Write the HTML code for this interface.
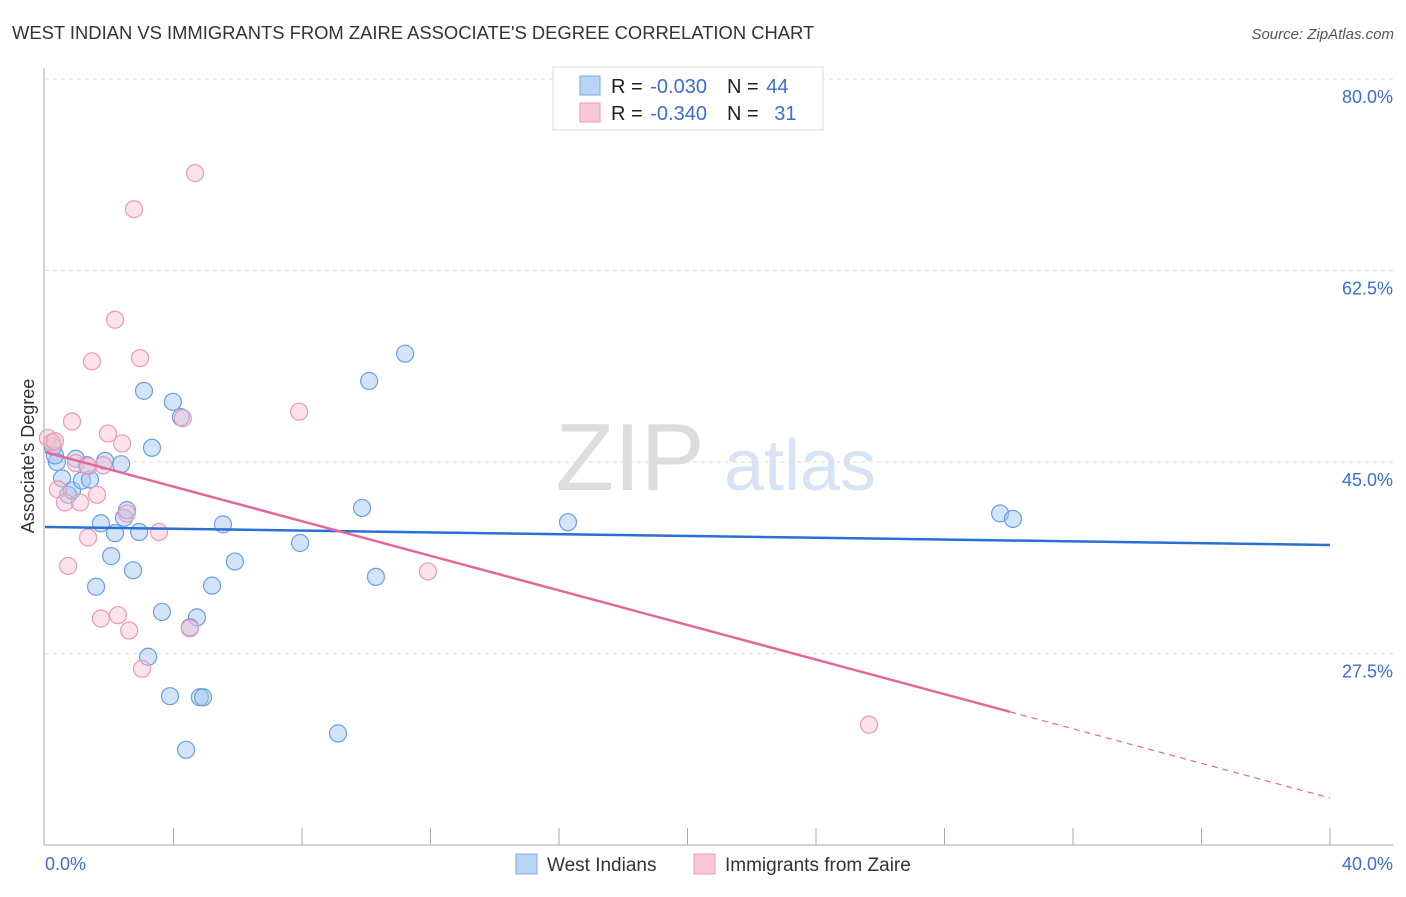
<!DOCTYPE html>
<html><head><meta charset="utf-8"><style>
body{margin:0;background:#fff;font-family:"Liberation Sans",sans-serif}
svg text{font-family:"Liberation Sans",sans-serif}
</style></head><body>
<svg id="c" width="1406" height="892">
<text x="12" y="39" font-size="18.4" fill="#333">WEST INDIAN VS IMMIGRANTS FROM ZAIRE ASSOCIATE'S DEGREE CORRELATION CHART</text>
<text x="1394" y="39" font-size="15" fill="#555" font-style="italic" text-anchor="end">Source: ZipAtlas.com</text>
<text x="630" y="490" font-size="96" fill="#ddd" font-family="Liberation Serif" text-anchor="middle">ZIP</text>
<text x="800" y="490" font-size="72" fill="#d6e4f5" text-anchor="middle">atlas</text>
<text x="34" y="456" font-size="18" fill="#333" text-anchor="middle" transform="rotate(-90 34 456)">Associate's Degree</text>
<g id="grid"></g><g id="axes"></g><g id="pts"></g><g id="lines"></g>
<g>
<rect x="553" y="67" width="270" height="63" fill="#fff" stroke="#ddd"/>
<rect x="580" y="76" width="20" height="19" fill="#b9d4f5" stroke="#7aaae6"/>
<rect x="580" y="103" width="20" height="19" fill="#f9c9d7" stroke="#eb9ab2"/>
<text x="611" y="93" font-size="20" fill="#222">R = <tspan fill="#3a6fd0" dx="2">-0.030</tspan><tspan dx="20">N = </tspan><tspan fill="#3a6fd0" dx="2">44</tspan></text>
<text x="611" y="120" font-size="20" fill="#222">R = <tspan fill="#3a6fd0" dx="2">-0.340</tspan><tspan dx="20">N = </tspan><tspan fill="#3a6fd0" dx="10">31</tspan></text>
</g>
<g>
<rect x="516" y="854" width="21" height="20" fill="#b9d4f5" stroke="#7aaae6"/>
<text x="547" y="871" font-size="19" fill="#333">West Indians</text>
<rect x="694" y="854" width="21" height="20" fill="#f9c9d7" stroke="#eb9ab2"/>
<text x="725" y="871" font-size="19" fill="#333">Immigrants from Zaire</text>
</g>
</svg>
<script>
const yTicks=[80,62.5,45,27.5];
const yTickLabels=["80.0%","62.5%","45.0%","27.5%"];
const blueX=[0.25,0.37,0.31,0.53,0.72,0.84,1.15,1.40,0.96,1.31,1.87,2.37,1.74,2.18,2.46,2.55,2.93,2.06,1.59,2.74,3.08,3.33,3.98,4.23,5.54,5.91,5.20,3.64,4.73,4.51,3.21,3.89,4.82,4.92,4.39,7.94,9.12,9.87,10.09,10.30,11.21,16.28,29.73,30.13];
const blueY=[46.4,45.0,45.6,43.5,42.0,42.4,43.3,43.4,45.3,44.7,45.1,44.8,39.4,38.5,39.9,40.6,38.6,36.4,33.6,35.1,51.5,46.3,50.5,49.1,39.3,35.9,33.7,31.3,30.8,29.9,27.2,23.6,23.5,23.5,18.7,37.6,20.2,40.8,52.4,34.5,54.9,39.5,40.3,39.8];
const pinkX=[0.09,0.22,0.31,0.84,0.40,0.62,1.09,1.62,0.96,1.34,1.81,1.96,2.40,2.55,4.67,2.77,2.18,2.96,1.46,4.29,7.91,1.34,0.72,3.55,2.27,1.74,2.62,4.51,3.02,11.92,25.65];
const pinkY=[47.2,46.8,46.9,48.7,42.5,41.3,41.3,42.0,44.9,44.6,44.7,47.6,46.7,40.3,71.4,68.1,58.0,54.5,54.2,49.0,49.6,38.1,35.5,38.6,31.0,30.7,29.6,29.8,26.1,35.0,21.0];
const blueTrend=[39.06,37.42];
const pinkTrend=[45.91,14.30];
const pinkSolidEnd=30.04;
const X=v=>45+v/40*1285, Y=v=>79+(80-v)/17.5*191.5;
const ns="http://www.w3.org/2000/svg";
function mk(t,a,p){const e=document.createElementNS(ns,t);for(const k in a)e.setAttribute(k,a[k]);document.getElementById(p).appendChild(e);return e;}
yTicks.forEach((t,i)=>{
 const g=mk('line',{x1:45,x2:1393,y1:Y(t),y2:Y(t),stroke:'#ddd','stroke-dasharray':'4,4'},'grid');
 
 
 const l=mk('text',{x:1393,y:Y(t)+24,'font-size':18,fill:'#3a6fd0','text-anchor':'end'},'axes');
 l.textContent=yTickLabels[i];
 
 
});
const ya=mk('line',{x1:44,x2:44,y1:68,y2:845,stroke:'#aaa'},'axes');


const xa=mk('line',{x1:44,x2:1393,y1:845,y2:845,stroke:'#aaa'},'axes');


for(let v=4;v<=40;v+=4){const t=mk('line',{x1:X(v),x2:X(v),y1:828,y2:845,stroke:'#aaa'},'axes');
 
 }
[["0.0%",45,"start"],["40.0%",1393,"end"]].forEach(a=>{const t=mk('text',{x:a[1],y:870,'font-size':18,fill:'#3a6fd0','text-anchor':a[2]},'axes');t.textContent=a[0];
 
 });
blueX.forEach((x,i)=>{const c=mk('circle',{cx:X(x),cy:Y(blueY[i]),r:8.5,fill:'rgba(160,196,240,0.45)',stroke:'#6a9fe0','stroke-width':1.2},'pts');
 
 });
pinkX.forEach((x,i)=>{const c=mk('circle',{cx:X(x),cy:Y(pinkY[i]),r:8.5,fill:'rgba(248,190,208,0.45)',stroke:'#ea9ab4','stroke-width':1.2},'pts');
 
 });
const bl=mk('line',{x1:X(0),y1:Y(blueTrend[0]),x2:X(40),y2:Y(blueTrend[1]),stroke:'#2a6fd6','stroke-width':2.5},'lines');


const pv=x=>pinkTrend[0]+(pinkTrend[1]-pinkTrend[0])*x/40;
const pl=mk('line',{x1:X(0),y1:Y(pinkTrend[0]),x2:X(pinkSolidEnd),y2:Y(pv(pinkSolidEnd)),stroke:'#e5679a','stroke-width':2.5},'lines');


const pd=mk('line',{x1:X(pinkSolidEnd),y1:Y(pv(pinkSolidEnd)),x2:X(40),y2:Y(pinkTrend[1]),stroke:'#e5679a','stroke-width':1.2,'stroke-dasharray':'6,5'},'lines');


</script>
</body></html>
